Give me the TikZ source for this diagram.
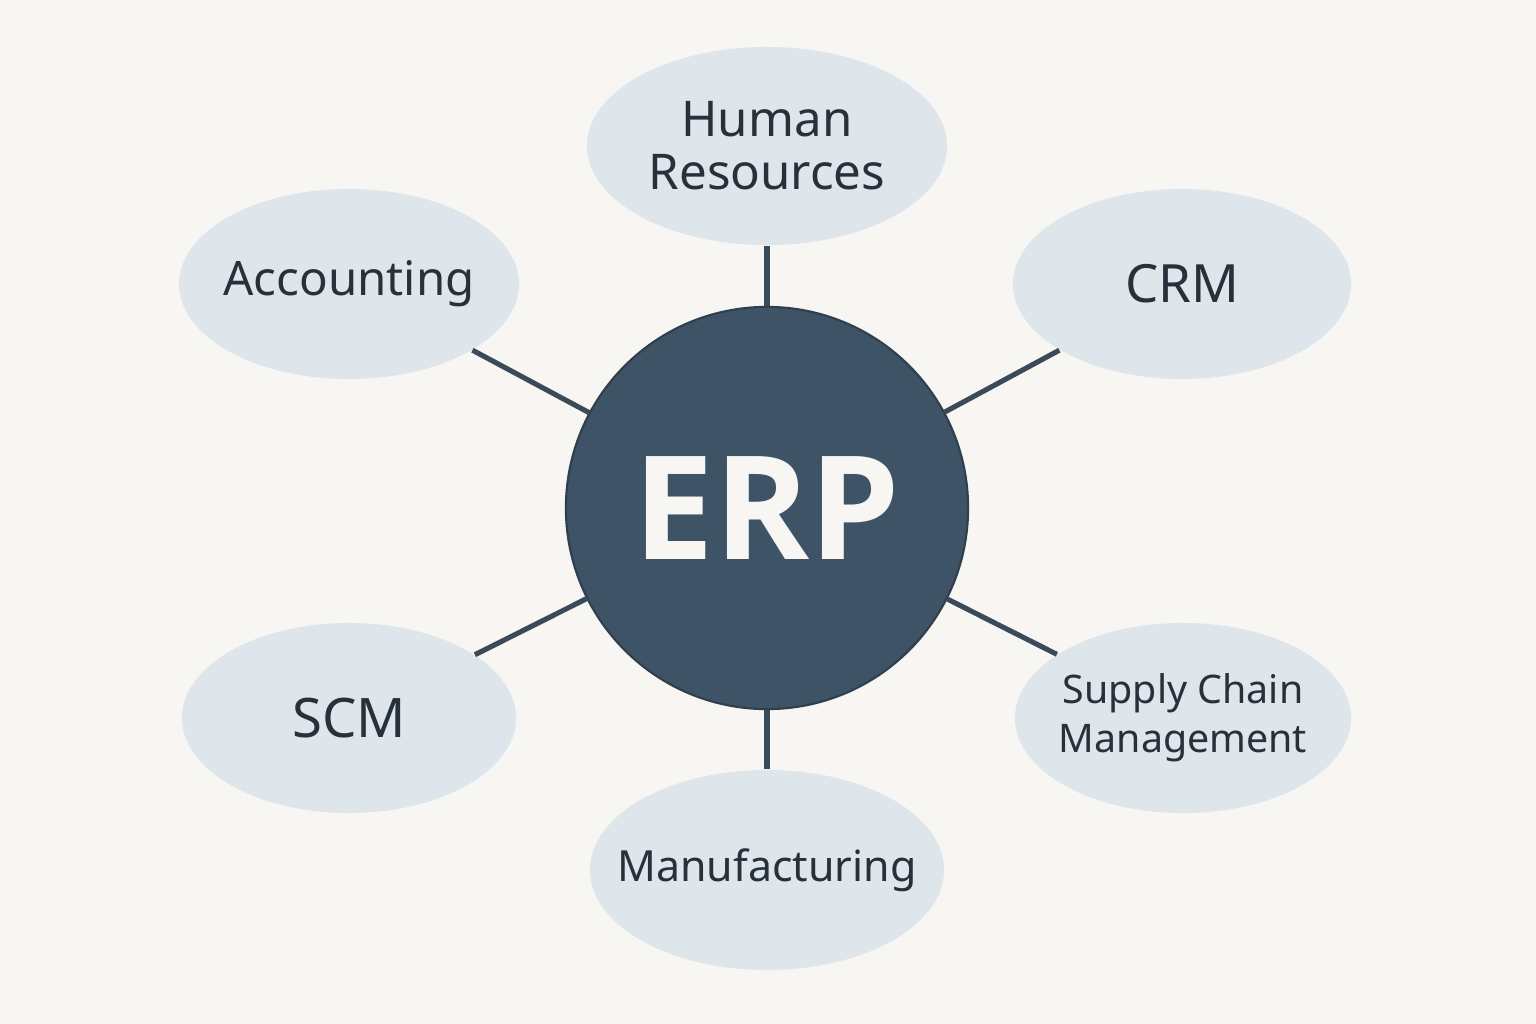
\documentclass[tikz,border=0pt]{standalone}
\usepackage{fontspec}
\setmainfont{Noto Sans}
\newfontfamily\erpfont{Open Sans}
\usetikzlibrary{shapes.geometric}
\definecolor{pBack}{HTML}{F8F6F2}
\definecolor{pSlate}{HTML}{3E5366}
\definecolor{pEdge}{HTML}{2F3F4D}
\definecolor{pLine}{HTML}{3A4A58}
\definecolor{pMod}{HTML}{DFE6EB}
\definecolor{pText}{HTML}{27313B}
\tikzset{
    hub/.style={circle, draw=pEdge, line width=0.6pt, fill=pSlate, inner sep=0pt,
        minimum size=4.02cm, text=pBack, font=\erpfont\bfseries\fontsize{41}{44}\selectfont},
    module/.style={ellipse, fill=pMod, inner sep=-0.6cm, align=center, text=pText,
        font=\fontsize{14}{15}\selectfont},
    link/.style={line width=1.45pt, pLine}
}

\begin{document}
\begin{tikzpicture}[x=0.01cm,y=-0.01cm]
\fill[pBack] (0,0) rectangle (1536,1024);
\useasboundingbox (0,0) rectangle (1536,1024);
\node[hub] (erp) at (767,508) {ERP};
\node[module,minimum width=3.6cm,minimum height=1.98cm] (hr) at (767,146) {Human\\Resources};
\node[module,minimum width=3.4cm,minimum height=1.9cm,font=\fontsize{13.5}{15}\selectfont] (acc) at (349,284) {Accounting};
\node[module,minimum width=3.38cm,minimum height=1.9cm,font=\fontsize{15}{16}\selectfont] (crm) at (1182,284) {CRM};
\node[module,minimum width=3.34cm,minimum height=1.9cm,font=\fontsize{15.5}{16}\selectfont] (scm) at (349,718) {SCM};
\node[module,minimum width=3.36cm,minimum height=1.9cm,font=\fontsize{11.2}{14}\selectfont] (sup) at (1183,718) {Supply Chain\\Management};
\node[module,minimum width=3.54cm,minimum height=2cm,font=\fontsize{12.2}{14}\selectfont] (man) at (767,870) {Manufacturing};
\draw[link] (erp) -- (hr);
\draw[link] (erp) -- (acc);
\draw[link] (erp) -- (crm);
\draw[link] (erp) -- (scm);
\draw[link] (erp) -- (sup);
\draw[link] (erp) -- (man);
\end{tikzpicture}
\end{document}
